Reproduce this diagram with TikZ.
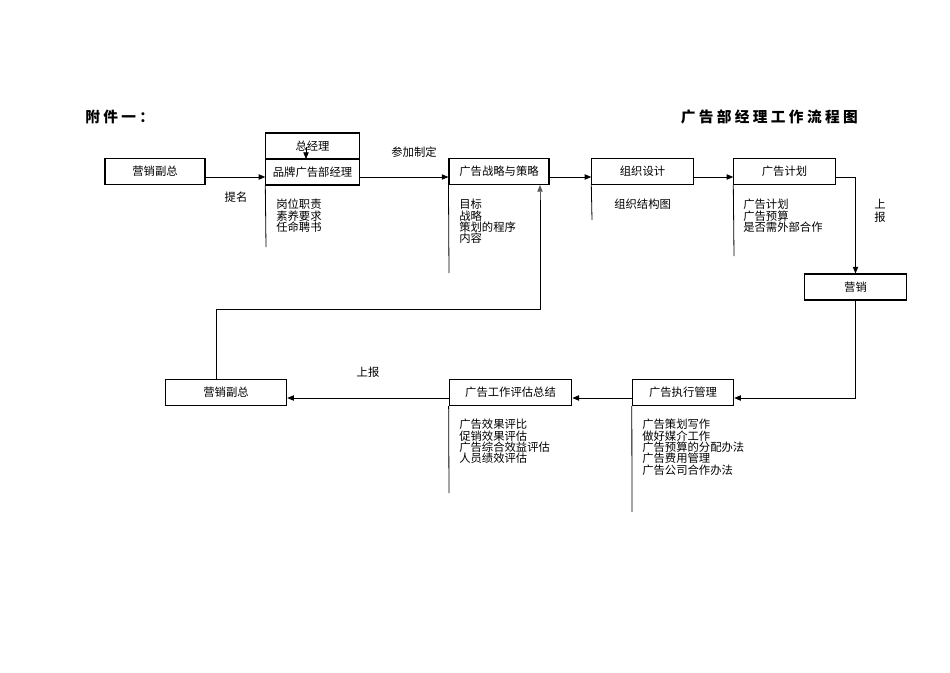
\documentclass[tikz,border=0pt]{standalone}
\usepackage{fontspec}
\setmainfont{Noto Sans CJK SC}
\usetikzlibrary{arrows.meta}
\begin{document}
\begin{tikzpicture}[x=0.75pt,y=-0.75pt,
 box/.style={draw,thick,fill=white,minimum height=19.5pt,inner sep=0pt,font=\fontsize{8.5}{10}\selectfont},
 lbl/.style={font=\fontsize{8.5}{9}\selectfont,inner sep=0pt},
 lst/.style={font=\fontsize{8.5}{8.5}\selectfont,inner sep=0pt,align=left,anchor=north west},
 arr/.style={-{Triangle[length=5pt,width=4pt]},line width=0.6pt},
 ln/.style={line width=0.6pt}]
\useasboundingbox (0,0) rectangle (950,672);
\node[lbl,anchor=west,font=\bfseries\fontsize{11}{12}\selectfont] (t1) at (85,117) {附\ 件\ 一\ ：};
\node[lbl,anchor=east,font=\bfseries\fontsize{11}{12}\selectfont] (t2) at (858,117) {广\ 告\ 部\ 经\ 理\ 工\ 作\ 流\ 程\ 图};
\node[box,minimum width=75pt] (a) at (155,171.5) {营销副总};
\node[box,minimum width=70pt] (g) at (312.5,146) {总经理};
\node[box,minimum width=70pt] (b) at (312.5,172) {品牌广告部经理};
\node[box,minimum width=75pt] (c) at (499,171.5) {广告战略与策略};
\node[box,minimum width=76pt] (d) at (642.5,171.5) {组织设计};
\node[box,minimum width=76pt] (e) at (784.5,171.5) {广告计划};
\node[box,minimum width=76pt] (f) at (855.5,287) {营销};
\node[box,minimum width=76pt] (h) at (683,392.5) {广告执行管理};
\node[box,minimum width=92pt] (i) at (510.5,392.5) {广告工作评估总结};
\node[box,minimum width=91pt] (j) at (226,392.5) {营销副总};
\coordinate (gt) at (306,147);
\draw[arr] (gt) -- (306,159);
\draw[arr] (a.east |- 0,177) -- (b.west |- 0,177);
\draw[arr] (b.east |- 0,177) -- (c.west |- 0,177);
\draw[arr] (c.east |- 0,177) -- (d.west |- 0,177);
\draw[arr] (d.east |- 0,177) -- (e.west |- 0,177);
\draw[arr] (e.east |- 0,177) -| (f.north);
\draw[arr] (f.south) |- (h.east |- 0,398);
\draw[arr] (h.west |- 0,398) -- (i.east |- 0,398);
\draw[arr] (i.west |- 0,398) -- (j.east |- 0,398);
\draw[ln] (j.north -| 216,0) -- (216,309) -| (540,200);
\draw[arr,gray!70!black] (540,200) -- (c.south -| 540,0);
\draw[ln] (b.south west) -- (266,247);
\draw[ln] (c.south west) -- (449,273);
\draw[ln] (d.south west) -- (592,220);
\draw[ln] (e.south west) -- (734,256);
\draw[ln] (h.south west) -- (632,512);
\draw[ln] (i.south west) -- (449,493);
\node[lbl] (l1) at (236,197) {提名};
\node[lbl] (l2) at (414,152) {参加制定};
\node[lbl,align=center,font=\fontsize{8.5}{10}\selectfont] (l3) at (880,211) {上\\报};
\node[lbl] (l4) at (368,372) {上报};
\node[lst] (s1) at (276,199) {岗位职责\\素养要求\\任命聘书};
\node[lst] (s2) at (459,199) {目标\\战略\\策划的程序\\内容};
\node[lst] (s3) at (614,199) {组织结构图};
\node[lst] (s4) at (743,199) {广告计划\\广告预算\\是否需外部合作};
\node[lst] (s5) at (459,419) {广告效果评比\\促销效果评估\\广告综合效益评估\\人员绩效评估};
\node[lst] (s6) at (642,419) {广告策划写作\\做好媒介工作\\广告预算的分配办法\\广告费用管理\\广告公司合作办法};
\end{tikzpicture}
\end{document}
